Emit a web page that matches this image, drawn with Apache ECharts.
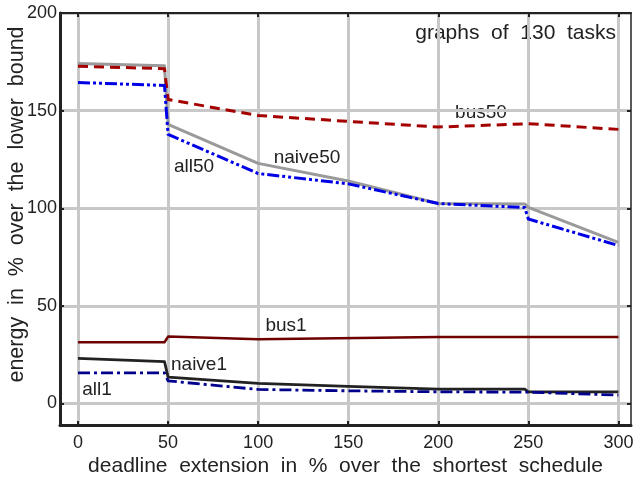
<!DOCTYPE html>
<html>
<head>
<meta charset="utf-8">
<script src="https://cdn.jsdelivr.net/npm/echarts@6/dist/echarts.min.js"></script>
<style>
  html, body { margin: 0; padding: 0; background: #fff; }
  #chart { width: 636px; height: 481px; }
</style>
</head>
<body>
<div id="chart"></div>
<script>
// Deadline extension (%) and energy over the lower bound (%) per heuristic
const xTicks = [0, 50, 100, 150, 200, 250, 300];
const yTicks = [0, 50, 100, 150, 200];

const naive50X = [0, 48, 50, 100, 150, 200, 248, 250, 300];
const naive50Y = [174.2, 173.0, 143.0, 123.0, 114.0, 102.4, 102.2, 100.5, 82.5];

const all50X = [0, 48, 50, 100, 150, 200, 248, 250, 300];
const all50Y = [164.4, 162.9, 137.8, 117.8, 112.5, 102.4, 100.4, 94.5, 80.9];

const bus50X = [0, 48, 50, 100, 150, 200, 250, 300];
const bus50Y = [172.7, 171.5, 155.7, 147.5, 144.5, 141.6, 143.3, 140.4];

const bus1X = [0, 48, 50, 100, 200, 250, 300];
const bus1Y = [31.4, 31.4, 34.3, 32.9, 34.1, 34.1, 34.1];

const naive1X = [0, 48, 50, 100, 150, 200, 248, 250, 300];
const naive1Y = [23.1, 21.5, 13.5, 10.3, 8.8, 7.4, 7.4, 6.0, 6.0];

const all1X = [0, 48, 50, 100, 150, 200, 250, 300];
const all1Y = [15.7, 15.7, 11.6, 7.2, 6.5, 6.0, 5.8, 4.3];

const FONT = '"Liberation Sans", Arial, Helvetica, sans-serif';
const INK = '#222';

function pairs(xs, ys) { return xs.map((x, i) => [x, ys[i]]); }

function line(name, xs, ys, color, width, type) {
  return {
    name: name,
    type: 'line',
    data: pairs(xs, ys),
    showSymbol: false,
    symbol: 'none',
    silent: true,
    animation: false,
    lineStyle: { color: color, width: width, type: type, join: 'round', cap: 'butt' }
  };
}

function note(text, x, y, size, align) {
  return {
    type: 'text', x: x, y: y, silent: true,
    style: { text: text, align: align || 'center', verticalAlign: 'middle', font: size + 'px ' + FONT, fill: INK }
  };
}

const chart = echarts.init(document.getElementById('chart'), null, { renderer: 'canvas' });

const gridLine = { show: true, lineStyle: { color: '#c8c8c8', width: 3 } };

chart.setOption({
  animation: false,
  backgroundColor: '#fff',
  grid: { left: 60, right: 5, top: 13, bottom: 56, containLabel: false, outerBoundsMode: 'none' },
  xAxis: [
    {
      type: 'value', min: -10, max: 307, position: 'bottom',
      name: 'deadline  extension  in  %  over  the  shortest  schedule',
      nameLocation: 'middle', nameGap: 31, nameMoveOverlap: false,
      nameTextStyle: { fontFamily: FONT, fontSize: 21, color: INK },
      axisLine: { show: true, onZero: false, lineStyle: { color: INK, width: 3 } },
      axisTick: { show: true, inside: true, length: 4, customValues: xTicks, lineStyle: { color: INK, width: 2 } },
      axisLabel: { show: true, customValues: xTicks, margin: 9, fontFamily: FONT, fontSize: 18, color: INK },
      splitLine: gridLine
    },
    {
      type: 'value', min: -10, max: 307, position: 'top',
      axisLine: { show: true, onZero: false, lineStyle: { color: INK, width: 2 } },
      axisTick: { show: true, inside: true, length: 4, customValues: xTicks, lineStyle: { color: INK, width: 2 } },
      axisLabel: { show: false },
      splitLine: { show: false }
    }
  ],
  yAxis: [
    {
      type: 'value', min: -11, max: 200, position: 'left',
      axisLine: { show: true, onZero: false, lineStyle: { color: INK, width: 3 } },
      axisTick: { show: true, inside: true, length: 4, customValues: yTicks, lineStyle: { color: INK, width: 2 } },
      axisLabel: { show: true, customValues: yTicks, margin: 3, fontFamily: FONT, fontSize: 18, color: INK },
      splitLine: gridLine
    },
    {
      type: 'value', min: -11, max: 200, position: 'right',
      axisLine: { show: true, onZero: false, lineStyle: { color: INK, width: 1.5 } },
      axisTick: { show: true, inside: true, length: 4, customValues: yTicks, lineStyle: { color: INK, width: 2 } },
      axisLabel: { show: false },
      splitLine: { show: false }
    }
  ],
  series: [
    line('naive50', naive50X, naive50Y, '#9a9a9a', 3, 'solid'),
    line('bus50', bus50X, bus50Y, '#a50000', 3, [10, 6]),
    line('all50', all50X, all50Y, '#0000e6', 3, [12, 3, 3, 3, 3, 3]),
    line('bus1', bus1X, bus1Y, '#6e0000', 2.5, 'solid'),
    line('naive1', naive1X, naive1Y, '#222222', 2.8, 'solid'),
    line('all1', all1X, all1Y, '#00008c', 2.8, [12, 4, 3, 4])
  ],
  graphic: [
    // vertical axis title, reading bottom to top
    {
      type: 'text', x: 17.5, y: 204.5, rotation: Math.PI / 2, silent: true,
      style: { text: 'energy  in  %  over  the  lower  bound', align: 'center', verticalAlign: 'middle',
               font: '21.5px ' + FONT, fill: INK }
    },
    note('graphs  of  130  tasks', 616, 33, 21, 'right'),
    note('bus50', 481, 113, 19),
    note('naive50', 307, 158, 19),
    note('all50', 194, 167, 19),
    note('bus1', 286, 326, 19),
    note('naive1', 199, 365, 19),
    note('all1', 97, 390, 19)
  ]
});
</script>
</body>
</html>
